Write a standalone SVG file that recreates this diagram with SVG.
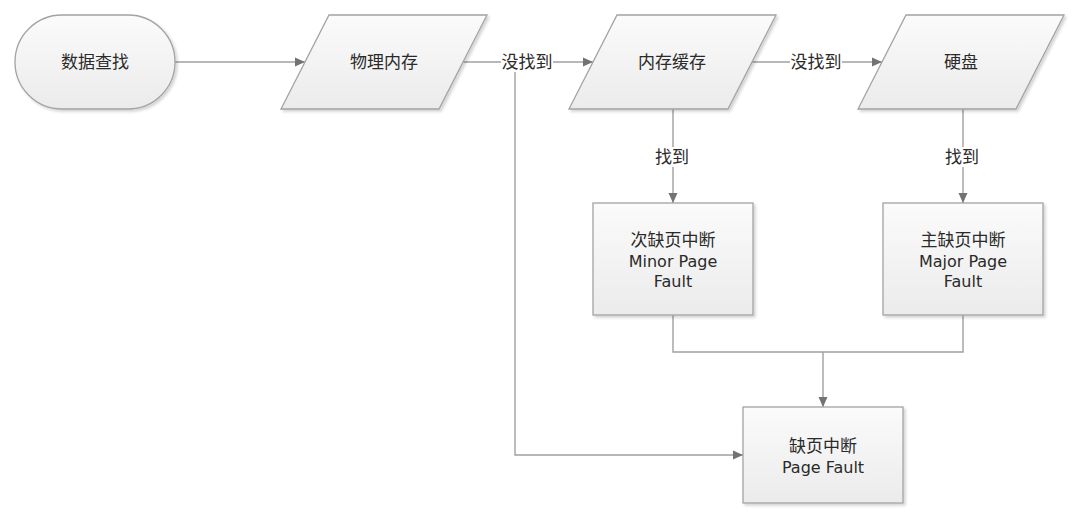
<svg xmlns="http://www.w3.org/2000/svg" width="1076" height="530" viewBox="0 0 1076 530">
  <defs>
    <linearGradient id="shapeFill" x1="0" y1="0" x2="0" y2="1">
      <stop offset="0" stop-color="#fbfbfb"/>
      <stop offset="1" stop-color="#ebebeb"/>
    </linearGradient>
    <filter id="shadow" x="-10%" y="-10%" width="125%" height="130%">
      <feGaussianBlur in="SourceAlpha" stdDeviation="1.5"/>
      <feOffset dx="2" dy="2" result="b"/>
      <feComponentTransfer><feFuncA type="linear" slope="0.18"/></feComponentTransfer>
      <feMerge><feMergeNode/><feMergeNode in="SourceGraphic"/></feMerge>
    </filter>
    <marker id="arrow" viewBox="0 0 10 10" refX="10" refY="5" markerWidth="10" markerHeight="10" markerUnits="userSpaceOnUse" orient="auto">
      <path d="M0,0.5 L10,5 L0,9.5 Z" fill="#737373"/>
    </marker>
    <style>
      .shape { fill: url(#shapeFill); stroke: #a3a3a3; stroke-width: 1.3; filter: url(#shadow); }
      .wire { fill: none; stroke: #a0a0a0; stroke-width: 1.4; }
      .wire-arrow { fill: none; stroke: #a0a0a0; stroke-width: 1.4; marker-end: url(#arrow); }
      .txt { font-family: "DejaVu Sans", "Noto Sans CJK SC", sans-serif; font-size: 16px; fill: #2a2a2a; text-anchor: middle; }
      .cjk { font-size: 17px; }
      .lbl-bg { fill: #ffffff; }
    </style>
  </defs>

  <!-- connectors -->
  <g id="connectors">
    <line class="wire-arrow" x1="175" y1="62" x2="305" y2="62"/>
    <line class="wire" x1="463" y1="62" x2="515" y2="62"/>
    <line class="wire-arrow" x1="515" y1="62" x2="593" y2="62"/>
    <polyline class="wire-arrow" points="515,62 515,455 743,455"/>
    <line class="wire-arrow" x1="752" y1="62" x2="882" y2="62"/>
    <line class="wire-arrow" x1="673" y1="109" x2="673" y2="203"/>
    <line class="wire-arrow" x1="963" y1="109" x2="963" y2="203"/>
    <polyline class="wire" points="673,315 673,352 963,352 963,315"/>
    <line class="wire-arrow" x1="823" y1="352" x2="823" y2="407"/>

    <!-- connector labels -->
    <rect class="lbl-bg" x="501" y="52" width="52" height="20"/>
    <text class="txt cjk" x="527" y="68">没找到</text>
    <rect class="lbl-bg" x="790" y="52" width="52" height="20"/>
    <text class="txt cjk" x="816" y="68">没找到</text>
    <rect class="lbl-bg" x="653" y="147" width="40" height="20"/>
    <text class="txt cjk" x="672" y="163">找到</text>
    <rect class="lbl-bg" x="943" y="147" width="40" height="20"/>
    <text class="txt cjk" x="962" y="163">找到</text>
  </g>

  <!-- nodes -->
  <g id="node-start">
    <rect class="shape" x="15" y="15" width="160" height="94" rx="47" ry="47"/>
    <text class="txt cjk" x="95" y="68">数据查找</text>
  </g>

  <g id="node-ram">
    <polygon class="shape" points="329,15 487,15 439,109 281,109"/>
    <text class="txt cjk" x="384" y="68">物理内存</text>
  </g>

  <g id="node-cache">
    <polygon class="shape" points="617,15 776,15 728,109 569,109"/>
    <text class="txt cjk" x="672" y="68">内存缓存</text>
  </g>

  <g id="node-disk">
    <polygon class="shape" points="906,15 1064,15 1016,109 858,109"/>
    <text class="txt cjk" x="961" y="68">硬盘</text>
  </g>

  <g id="node-minor">
    <rect class="shape" x="593" y="203" width="160" height="112"/>
    <text class="txt cjk" x="673" y="246">次缺页中断</text>
    <text class="txt" x="673" y="267">Minor Page</text>
    <text class="txt" x="673" y="287">Fault</text>
  </g>

  <g id="node-major">
    <rect class="shape" x="883" y="203" width="160" height="112"/>
    <text class="txt cjk" x="963" y="246">主缺页中断</text>
    <text class="txt" x="963" y="267">Major Page</text>
    <text class="txt" x="963" y="287">Fault</text>
  </g>

  <g id="node-fault">
    <rect class="shape" x="743" y="407" width="160" height="96"/>
    <text class="txt cjk" x="823" y="452">缺页中断</text>
    <text class="txt" x="823" y="473">Page Fault</text>
  </g>
</svg>
